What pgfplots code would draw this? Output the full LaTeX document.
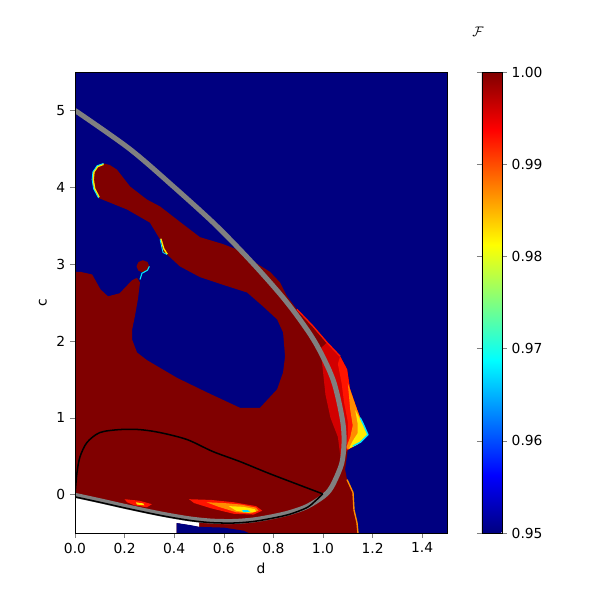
\documentclass[border=0pt]{standalone}
\usepackage{fontspec}
\setmainfont{DejaVu Sans}
\usepackage{pgfplots}
\pgfplotsset{compat=1.18}
\definecolor{jetlo}{RGB}{0,0,128}
\definecolor{jethi}{RGB}{128,0,0}
\definecolor{jetred}{RGB}{255,20,0}
\definecolor{jetmid}{RGB}{210,0,0}
\definecolor{jetorange}{RGB}{255,140,0}
\definecolor{jetyellow}{RGB}{255,235,0}
\definecolor{jetcyan}{RGB}{0,230,255}
\definecolor{curvegray}{RGB}{128,128,128}

\begin{document}
\begin{tikzpicture}
\useasboundingbox (0,0) rectangle (6in,6in);
\begin{axis}[
    at={(0.75in,0.67in)}, anchor=south west,
    scale only axis, width=3.72in, height=4.61in,
    xmin=0, xmax=1.5, ymin=-0.5, ymax=5.5,
    xtick={0,0.2,0.4,0.6,0.8,1.0,1.2,1.4},
    ytick={0,1,2,3,4,5},
    xticklabel style={/pgf/number format/.cd, fixed, fixed zerofill, precision=1},
    /pgf/number format/assume math mode=true,
    tick align=outside, major tick length=0.05in,
    xtick pos=bottom, ytick pos=left,
    xlabel={d}, ylabel={c},
    axis background/.style={fill=jetlo},
    axis on top,
    colorbar,
    colormap/jet,
    point meta min=0.95, point meta max=1.0,
    colorbar style={
        at={(parent axis.north east)}, anchor=north west, xshift=0.23in,
        scale only axis, width=0.2in, height=4.61in,
        ytick={0.95,0.96,0.97,0.98,0.99,1.0},
        yticklabel style={/pgf/number format/.cd, fixed, fixed zerofill, precision=2,
            assume math mode=true},
        tick align=outside, major tick length=0.05in,
    },
    ]

    % main region at F = 1
    \addplot[draw=none, fill=jethi] coordinates {
    (0,2.90) (0.02,2.90) (0.069,2.865) (0.103,2.67) (0.133,2.58) (0.18,2.62)
    (0.23,2.79) (0.25,2.82) (0.262,2.76) (0.254,2.55) (0.242,2.33) (0.23,2.14)
    (0.23,2.02) (0.25,1.85) (0.29,1.75) (0.411,1.52) (0.532,1.33) (0.665,1.13)
    (0.746,1.13) (0.815,1.37) (0.839,1.59) (0.847,1.80) (0.839,2.11) (0.815,2.28)
    (0.758,2.45) (0.694,2.63) (0.597,2.73) (0.504,2.83) (0.423,2.97) (0.371,3.125)
    (0.355,3.15) (0.343,3.32) (0.302,3.54) (0.21,3.71) (0.141,3.80) (0.095,3.86)
    (0.075,3.98) (0.069,4.10) (0.072,4.20) (0.089,4.28) (0.115,4.31) (0.14,4.29)
    (0.169,4.23) (0.222,4.01) (0.29,3.84) (0.343,3.75) (0.423,3.55) (0.504,3.35)
    (0.597,3.26) (0.653,3.19) (0.706,3.06) (0.786,2.90) (0.827,2.76) (0.855,2.58)
    (0.895,2.41) (0.96,2.19) (1.016,1.98) (1.069,1.80) (1.097,1.63)
    (1.109,1.37) (1.137,1.11) (1.157,0.94) (1.181,0.78) (1.137,0.65)
    (1.10,0.586) (1.089,0.326) (1.097,0.195) (1.121,0.026) (1.125,-0.2)
    (1.137,-0.365) (1.141,-0.5) (0,-0.5)
    } -- cycle;

    % undefined area below the lower curve
    \addplot[draw=none, fill=white] coordinates {
    (0,-0.01) (0.10,-0.08) (0.21,-0.16) (0.343,-0.25) (0.46,-0.315)
    (0.5,-0.33) (0.5,-0.42) (0.41,-0.37) (0.41,-0.5) (0,-0.5)
    } -- cycle;
    \addplot[draw=none, fill=jetlo] coordinates {
    (0.41,-0.37) (0.47,-0.40) (0.5,-0.42) (0.6,-0.43) (0.68,-0.47) (0.70,-0.5) (0.41,-0.5)
    } -- cycle;

    % small island
    \addplot[draw=none, fill=jethi] coordinates {
    (0.300,2.97) (0.292,3.027) (0.274,3.05) (0.256,3.027) (0.248,2.97)
    (0.256,2.913) (0.274,2.89) (0.292,2.913)
    } -- cycle;

    % soft edge on the right
    \addplot[draw=none, fill=jetmid] coordinates {
    (1.016,1.98) (1.069,1.80) (1.097,1.63) (1.109,1.37) (1.137,1.11)
    (1.157,0.94) (1.181,0.78) (1.137,0.65) (1.10,0.586)
    (1.07,0.5) (1.06,0.75) (1.03,1.0) (1.01,1.3) (1.0,1.6) (0.99,1.9)
    } -- cycle;
    \addplot[draw=none, fill=jetred] coordinates {
    (1.069,1.80) (1.097,1.63) (1.109,1.37) (1.137,1.11) (1.157,0.94)
    (1.181,0.78) (1.137,0.65) (1.10,0.586) (1.095,0.6) (1.10,0.75)
    (1.10,0.95) (1.085,1.2) (1.075,1.45) (1.06,1.7)
    } -- cycle;
    \addplot[draw=none, fill=jetorange] coordinates {
    (1.10,1.45) (1.109,1.37) (1.137,1.11) (1.157,0.94) (1.181,0.78) (1.137,0.65)
    (1.10,0.586) (1.095,0.62) (1.11,0.75) (1.12,0.9) (1.11,1.1)
    } -- cycle;
    \addplot[draw=none, fill=jetyellow] coordinates {
    (1.13,1.10) (1.157,0.94) (1.181,0.78) (1.137,0.65) (1.105,0.60)
    (1.12,0.70) (1.14,0.80) (1.14,0.92)
    } -- cycle;
    \addplot[jetcyan, line width=1pt] coordinates {
    (1.15,1.0) (1.165,0.90) (1.181,0.78) (1.15,0.68) (1.12,0.63)
    };
    \addplot[jetorange, line width=1pt] coordinates {
    (1.097,0.195) (1.121,0.026) (1.125,-0.2) (1.137,-0.365) (1.141,-0.5)
    };
    \addplot[jetred, line width=1pt] coordinates {
    (0.895,2.41) (0.96,2.19) (1.016,1.98) (1.069,1.80)
    };

    % soft edges of the upper band and the island
    \addplot[jetyellow, line width=1.2pt] coordinates {
    (0.115,4.30) (0.091,4.27) (0.076,4.20) (0.073,4.10) (0.079,3.98) (0.097,3.87)
    };
    \addplot[jetcyan, line width=0.6pt] coordinates {
    (0.115,4.31) (0.089,4.28) (0.072,4.20) (0.069,4.10) (0.075,3.98) (0.095,3.86)
    };
    \addplot[jetyellow, line width=1pt] coordinates {
    (0.346,3.33) (0.358,3.20) (0.372,3.13)
    };
    \addplot[jetcyan, line width=0.6pt] coordinates {
    (0.343,3.32) (0.355,3.15) (0.371,3.125)
    };
    \addplot[jetcyan, line width=0.8pt] coordinates {
    (0.30,2.97) (0.292,2.92) (0.27,2.88) (0.262,2.80)
    };

    % bright spots near the lower curve
    \addplot[draw=none, fill=jetred] coordinates {
    (0.46,-0.06) (0.55,-0.07) (0.64,-0.10) (0.73,-0.15) (0.755,-0.21) (0.72,-0.26)
    (0.64,-0.25) (0.55,-0.18) (0.48,-0.11)
    } -- cycle;
    \addplot[draw=none, fill=jetorange] coordinates {
    (0.53,-0.10) (0.60,-0.11) (0.67,-0.13) (0.73,-0.17) (0.74,-0.21) (0.71,-0.245)
    (0.65,-0.23) (0.58,-0.16)
    } -- cycle;
    \addplot[draw=none, fill=jetyellow] coordinates {
    (0.62,-0.15) (0.68,-0.16) (0.725,-0.19) (0.73,-0.22) (0.70,-0.235) (0.65,-0.21)
    } -- cycle;
    \addplot[draw=none, fill=jetcyan] coordinates {
    (0.672,-0.205) (0.695,-0.20) (0.708,-0.222) (0.68,-0.228)
    } -- cycle;
    \addplot[draw=none, fill=jetred] coordinates {
    (0.20,-0.06) (0.26,-0.08) (0.31,-0.125) (0.29,-0.165) (0.24,-0.14) (0.21,-0.10)
    } -- cycle;
    \addplot[draw=none, fill=jetyellow] coordinates {
    (0.245,-0.10) (0.275,-0.115) (0.28,-0.14) (0.25,-0.13)
    } -- cycle;

    % curves
    \addplot[curvegray, line width=0.05in, smooth] coordinates {
    (0,5.0) (0.22,4.5) (0.40,4.0) (0.57,3.5) (0.72,3.0) (0.855,2.5) (0.965,2.0)
    (1.04,1.5) (1.077,1.0) (1.085,0.7) (1.075,0.4) (1.035,0.1) (1.0,-0.026)
    (0.935,-0.156) (0.867,-0.234) (0.80,-0.285) (0.72,-0.33) (0.64,-0.35)
    (0.55,-0.345) (0.46,-0.315) (0.343,-0.25) (0.21,-0.16) (0.10,-0.08) (0,-0.01)
    };
    \addplot[black, line width=1.1pt, smooth] coordinates {
    (0,0.0) (0.008,0.286) (0.02,0.49) (0.048,0.677) (0.10,0.807) (0.18,0.846)
    (0.26,0.846) (0.343,0.807) (0.452,0.716) (0.556,0.56) (0.665,0.43)
    (0.774,0.286) (0.879,0.156) (0.999,0.009)
    };
    \addplot[black, line width=1.1pt, smooth] coordinates {
    (0.999,0.009) (0.97,-0.08) (0.935,-0.17) (0.867,-0.255) (0.80,-0.305)
    (0.72,-0.35) (0.64,-0.37) (0.55,-0.365) (0.46,-0.335) (0.343,-0.27)
    (0.21,-0.18) (0.10,-0.10) (0,-0.03)
    };
\end{axis}
\node at (4.78in,5.68in) {$\mathcal{F}$};
\end{tikzpicture}
\end{document}
